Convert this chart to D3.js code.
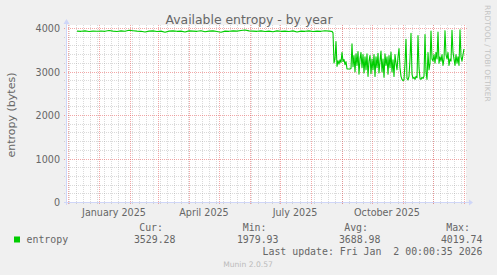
<!DOCTYPE html>
<html>
<head>
<meta charset="utf-8">
<script src="https://cdn.jsdelivr.net/npm/d3@7"></script>
<style>
    html, body { margin: 0; padding: 0; background: #F0F0F0; }
    svg { display: block; }
</style>
</head>
<body>
<div id="chart"></div>
<script>

//--- Daten -------------------------------------------------------------------------------------------- //

// ruhige Phase, ein Wert alle 4 Tage
var flatStart = '2024-12-10';
var flatStepDays = 4;
var flatValues = [
    3940,3935,3945,3930,3940,3938,3942,3935,3955,3940,
    3930,3945,3935,3960,3950,3940,3935,3920,3940,3945,
    3930,3940,3915,3940,3945,3935,3940,3920,3945,3940,
    3935,3950,3925,3940,3945,3930,3915,3940,3935,3945,
    3940,3955,3965,3945,3940,3935,3945,3930,3940,3925,
    3945,3935,3940,3930,3945,3920,3940,3935,3945,3930,
    3940,3935,3950,3940
];

// unruhige Phase, ein Wert pro Tag ab 20. August
var recentStart = '2025-08-20';
var recentValues = [
    3940,3930,3935,3900,3210,3300,3700,3130,3260,3180,3280,3220,
    3450,3240,3290,3170,3240,3070,3070,3070,3070,3080,3650,3120,3380,3000,3420,3150,3470,2950,
    3300,3450,3100,3400,2980,3350,3050,3420,2900,3250,3380,2960,
    3300,3050,3400,2900,3350,3100,3430,2980,3250,3480,3000,3300,2880,3420,3150,3350,2950,3380,
    3100,3460,3000,3280,2900,3400,3200,3050,3350,3540,3100,2900,2830,
    2800,2820,3200,3750,2850,2820,2900,3300,3890,2950,2850,2880,2830,2900,2870,3840,3100,2850,
    2830,2880,2850,2900,3860,3000,2830,3450,3050,3200,3940,3300,
    3250,3400,3200,3450,3300,3920,3200,3350,3250,3400,3150,3300,3950,3400,3300,3450,3150,3300,
    3250,3960,3450,3300,3150,3400,3200,3350,3150,3970,3350,3250,3400,
    3529
];

var yTicks = [0, 1000, 2000, 3000, 4000];
var quarterMonths = ['2025-01-01', '2025-04-01', '2025-07-01', '2025-10-01'];
var legendHeads = ['Cur:', 'Min:', 'Avg:', 'Max:'];
var legendValues = ['3529.28', '1979.93', '3688.98', '4019.74'];
var seriesName = 'entropy';
var lastUpdate = 'Last update: Fri Jan  2 00:00:35 2026';


//--- Konfiguration ------------------------------------------------------------------------------------ //

var Conf = {
    Width: 497,
    Height: 275,
    Left: 66,
    Right: 466,
    Top: 25,
    Bottom: 203,
    Font: 'DejaVu Sans',
    Mono: 'DejaVu Sans Mono',
    TextColor: '#666666',
    AxisColor: '#CFD6F8',
    MajorGrid: 'rgba(232,80,80,0.5)',
    MinorGrid: 'rgba(150,150,150,0.35)',
    LineColor: '#00CC00'
};

var day = 24 * 3600 * 1000;

function parseDay(s) {
    var p = s.split('-');
    return new Date(Date.UTC(+p[0], +p[1] - 1, +p[2]));
}

function buildPoints() {
    var pts = [];
    var t0 = parseDay(flatStart).getTime();
    for (var i = 0; i < flatValues.length; i++) {
        pts.push({ date: new Date(t0 + i * flatStepDays * day), value: flatValues[i] });
    }
    var t1 = parseDay(recentStart).getTime();
    for (var j = 0; j < recentValues.length; j++) {
        pts.push({ date: new Date(t1 + j * day), value: recentValues[j] });
    }
    return pts;
}


//--- Diagramm ------------------------------------------------------------------------------------------ //

function renderChart() {

    var svg = d3.select('#chart').append('svg')
        .attr('width', Conf.Width)
        .attr('height', Conf.Height);

    svg.append('rect')
        .attr('width', Conf.Width)
        .attr('height', Conf.Height)
        .attr('fill', '#F0F0F0');

    var x = d3.scaleUtc()
        .domain([parseDay('2024-11-28'), parseDay('2026-01-02')])
        .range([65, 465]);

    var y = d3.scaleLinear()
        .domain([0, 4000])
        .range([202.5, 28.5]);

    var px = function (v) { return Math.floor(v) + 0.5; };

    // Zeichenflaeche
    svg.append('rect')
        .attr('x', Conf.Left)
        .attr('y', Conf.Top)
        .attr('width', Conf.Right - Conf.Left)
        .attr('height', Conf.Bottom - Conf.Top)
        .attr('fill', '#FFFFFF');

    var grid = svg.append('g').attr('id', 'grid');

    // feines Raster horizontal (alle 200)
    var minorY = d3.range(200, 4001, 200).filter(function (v) { return v % 1000 !== 0; });
    grid.selectAll('.hmin').data(minorY).enter().append('line')
        .attr('x1', Conf.Left - 2).attr('x2', Conf.Right + 2)
        .attr('y1', function (d) { return px(y(d)); })
        .attr('y2', function (d) { return px(y(d)); })
        .attr('stroke', Conf.MinorGrid)
        .attr('stroke-dasharray', '1,1');

    // feines Raster vertikal (Wochen)
    var weeks = d3.utcMonday.range(x.domain()[0], x.domain()[1]);
    grid.selectAll('.vmin').data(weeks).enter().append('line')
        .attr('x1', function (d) { return px(x(d)); })
        .attr('x2', function (d) { return px(x(d)); })
        .attr('y1', Conf.Top).attr('y2', Conf.Bottom + 2)
        .attr('stroke', Conf.MinorGrid)
        .attr('stroke-dasharray', '1,1');

    // Hauptraster horizontal
    grid.selectAll('.hmaj').data(yTicks).enter().append('line')
        .attr('x1', Conf.Left - 2).attr('x2', Conf.Right + 2)
        .attr('y1', function (d) { return px(y(d)); })
        .attr('y2', function (d) { return px(y(d)); })
        .attr('stroke', Conf.MajorGrid)
        .attr('stroke-dasharray', '1,1');

    // Hauptraster vertikal (Monate)
    var months = d3.utcMonth.range(x.domain()[0], x.domain()[1]);
    grid.selectAll('.vmaj').data(months).enter().append('line')
        .attr('x1', function (d) { return px(x(d)); })
        .attr('x2', function (d) { return px(x(d)); })
        .attr('y1', Conf.Top).attr('y2', Conf.Bottom + 2)
        .attr('stroke', Conf.MajorGrid)
        .attr('stroke-dasharray', '1,1');

    // Achsen mit Pfeilen
    svg.append('line')
        .attr('x1', Conf.Left - 2).attr('x2', Conf.Right + 3)
        .attr('y1', 202.5).attr('y2', 202.5)
        .attr('stroke', Conf.AxisColor);
    svg.append('line')
        .attr('x1', 66.5).attr('x2', 66.5)
        .attr('y1', Conf.Bottom + 2).attr('y2', 23)
        .attr('stroke', Conf.AxisColor);
    svg.append('path')
        .attr('d', 'M469,199.5 L473,202.5 L469,205.5 Z')
        .attr('fill', Conf.AxisColor);
    svg.append('path')
        .attr('d', 'M63.5,24 L66.5,19 L69.5,24 Z')
        .attr('fill', Conf.AxisColor);

    // Datenlinie
    var line = d3.line()
        .x(function (d) { return x(d.date); })
        .y(function (d) { return y(d.value); });

    svg.append('path')
        .datum(buildPoints())
        .attr('d', line)
        .attr('fill', 'none')
        .attr('stroke', Conf.LineColor)
        .attr('stroke-width', 1.1)
        .attr('stroke-linejoin', 'round');

    // Y-Beschriftung
    svg.selectAll('.ylab').data(yTicks).enter().append('text')
        .attr('x', 60)
        .attr('y', function (d) { return y(d) + 3.5; })
        .attr('text-anchor', 'end')
        .attr('font-family', Conf.Font)
        .attr('font-size', '9.6px')
        .attr('fill', Conf.TextColor)
        .text(function (d) { return d; });

    // X-Beschriftung, mittig im Monat
    var fmt = d3.utcFormat('%B %Y');
    svg.selectAll('.xlab').data(quarterMonths).enter().append('text')
        .attr('x', function (d) { return x(new Date(parseDay(d).getTime() + 15 * day)); })
        .attr('y', 216)
        .attr('text-anchor', 'middle')
        .attr('font-family', Conf.Font)
        .attr('font-size', '9.6px')
        .attr('fill', Conf.TextColor)
        .text(function (d) { return fmt(parseDay(d)); });

    // Titel
    svg.append('text')
        .attr('x', 249)
        .attr('y', 24)
        .attr('text-anchor', 'middle')
        .attr('font-family', Conf.Font)
        .attr('font-size', '12.4px')
        .attr('fill', Conf.TextColor)
        .text('Available entropy - by year');

    // Einheit
    svg.append('text')
        .attr('transform', 'translate(15,115) rotate(-90)')
        .attr('text-anchor', 'middle')
        .attr('font-family', Conf.Font)
        .attr('font-size', '11px')
        .attr('fill', Conf.TextColor)
        .text('entropy (bytes)');

    // Wasserzeichen rechts
    svg.append('text')
        .attr('transform', 'translate(485,5) rotate(90)')
        .attr('font-family', Conf.Font)
        .attr('font-size', '7.5px')
        .attr('fill', '#C4C4C4')
        .text('RRDTOOL / TOBI OETIKER');

    // Legende
    var legend = svg.append('g').attr('id', 'legend')
        .attr('font-family', Conf.Mono)
        .attr('font-size', '9.9px')
        .attr('fill', Conf.TextColor);

    legend.append('rect')
        .attr('x', 14).attr('y', 236.5)
        .attr('width', 6).attr('height', 6)
        .attr('fill', Conf.LineColor);

    legend.append('text')
        .attr('x', 26.5).attr('y', 243)
        .text(seriesName);

    var headEnd = [163, 266.5, 368, 470];
    var valEnd = [175.5, 278.5, 380.5, 482.5];

    for (var i = 0; i < legendHeads.length; i++) {
        legend.append('text')
            .attr('x', headEnd[i]).attr('y', 231)
            .attr('text-anchor', 'end')
            .text(legendHeads[i]);
        legend.append('text')
            .attr('x', valEnd[i]).attr('y', 243)
            .attr('text-anchor', 'end')
            .text(legendValues[i]);
    }

    legend.append('text')
        .attr('x', 482.5).attr('y', 254.5)
        .attr('text-anchor', 'end')
        .style('white-space', 'pre')
        .text(lastUpdate);

    svg.append('text')
        .attr('x', 248)
        .attr('y', 267)
        .attr('text-anchor', 'middle')
        .attr('font-family', Conf.Font)
        .attr('font-size', '7.6px')
        .attr('fill', '#BBBBBB')
        .text('Munin 2.0.57');
}

renderChart();

</script>
</body>
</html>
